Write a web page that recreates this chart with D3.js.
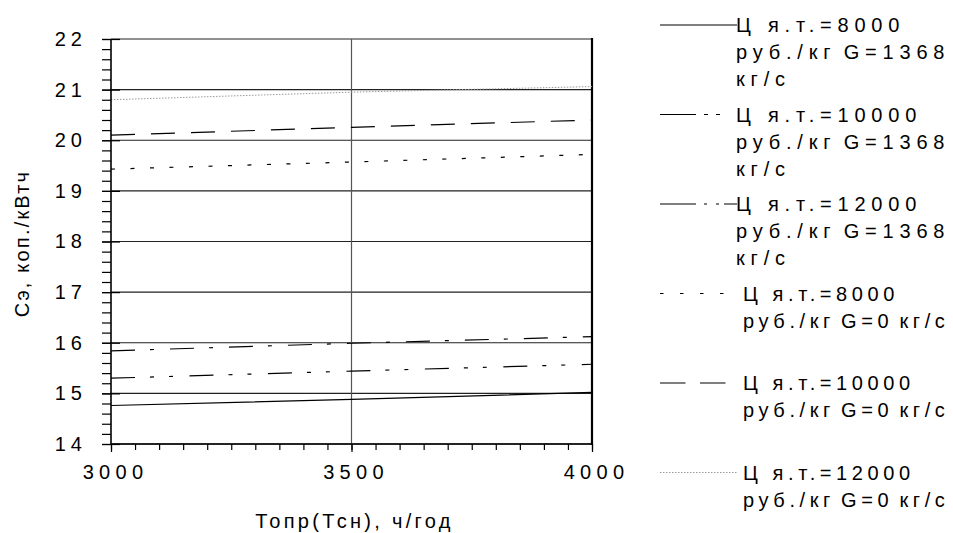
<!DOCTYPE html>
<html>
<head>
<meta charset="utf-8">
<script src="https://cdn.jsdelivr.net/npm/d3@7"></script>
<style>
  html, body { margin: 0; padding: 0; background: #fff; }
  svg { display: block; font-family: "Liberation Sans", Arial, sans-serif; }
</style>
</head>
<body>
<svg id="chart" width="953" height="533"></svg>
<script>
// Operating hours, h/year
const hours = [3000, 3500, 4000];

// Electricity cost, kop./kWh, for each fuel price / flow case
const cost8000G1368  = [14.76, 14.88, 15.02];
const cost10000G1368 = [15.30, 15.44, 15.575];
const cost12000G1368 = [15.84, 15.99, 16.12];
const cost8000G0     = [19.43, 19.57, 19.72];
const cost10000G0    = [20.10, 20.255, 20.40];
const cost12000G0    = [20.80, 20.95, 21.06];

const seriesNames = [
  ["Ц я.т.=8000", "руб./кг G=1368", "кг/с"],
  ["Ц я.т.=10000", "руб./кг G=1368", "кг/с"],
  ["Ц я.т.=12000", "руб./кг G=1368", "кг/с"],
  ["Ц я.т.=8000", "руб./кг G=0 кг/с"],
  ["Ц я.т.=10000", "руб./кг G=0 кг/с"],
  ["Ц я.т.=12000", "руб./кг G=0 кг/с"]
];

const xTickLabels = [3000, 3500, 4000];
const yTickLabels = [14, 15, 16, 17, 18, 19, 20, 21, 22];
const xTitle = "Топр(Тсн), ч/год";
const yTitle = "Сэ, коп./кВтч";

const seriesValues = [cost8000G1368, cost10000G1368, cost12000G1368,
                      cost8000G0, cost10000G0, cost12000G0];

// line styles: plot dash pattern, legend dash pattern, colour, width
const styles = [
  { dash: null,                  legendDash: null,                      color: "#000", width: 1.2 },
  { dash: "24,15,4,15,4,16.5",   legendDash: "36,8,4,8,4,200",          color: "#000", width: 1.2 },
  { dash: "24,15,4,16",          legendDash: "36,8,3,9,3,5,14",         color: "#000", width: 1.2 },
  { dash: "4,15.5",              legendDash: "3.5,16.5",                color: "#000", width: 1.2 },
  { dash: "24,16",               legendDash: "25.5,14.5",               color: "#000", width: 1.2 },
  { dash: "1.5,1.5",             legendDash: "1.5,1.5",                 color: "#9a9a9a", width: 1 }
];

const svg = d3.select("#chart");
const fontSize = 20;

const x = d3.scaleLinear().domain([3000, 4000]).range([111, 592]);
const y = d3.scaleLinear().domain([14, 22]).range([444, 39]);

// horizontal grid at each whole value
svg.append("g")
  .selectAll("line")
  .data(yTickLabels)
  .join("line")
  .attr("x1", x(3000)).attr("x2", x(4000))
  .attr("y1", d => y(d)).attr("y2", d => y(d))
  .attr("stroke", "#222").attr("stroke-width", 1.1);

// vertical grid at the middle tick
svg.append("line")
  .attr("x1", x(3500)).attr("x2", x(3500))
  .attr("y1", y(22)).attr("y2", y(14))
  .attr("stroke", "#555").attr("stroke-width", 1.2);

// right frame edge
svg.append("line")
  .attr("x1", x(4000)).attr("x2", x(4000))
  .attr("y1", y(22) - 1).attr("y2", y(14) + 1)
  .attr("stroke", "#000").attr("stroke-width", 2.2);

// series lines
const line = d3.line().x((d, i) => x(hours[i])).y(d => y(d));
svg.append("g")
  .selectAll("path")
  .data(seriesValues)
  .join("path")
  .attr("d", d => line(d))
  .attr("fill", "none")
  .attr("stroke", (d, i) => styles[i].color)
  .attr("stroke-width", (d, i) => styles[i].width)
  .attr("stroke-dasharray", (d, i) => styles[i].dash);

// y axis: minor ticks outside, major ticks crossing the axis, labels
const yMinor = d3.range(14, 22.0001, 0.2);
svg.append("g")
  .attr("transform", `translate(${x(3000)},0)`)
  .call(d3.axisLeft(y).tickValues(yMinor).tickSize(9).tickFormat(""))
  .call(g => g.select(".domain").remove())
  .call(g => g.selectAll("line").attr("stroke", "#000").attr("stroke-width", 1.2));

svg.append("g")
  .attr("transform", `translate(${x(3000)},0)`)
  .call(d3.axisRight(y).tickValues(yTickLabels).tickSize(9).tickFormat(""))
  .call(g => g.select(".domain").remove())
  .call(g => g.selectAll("line").attr("stroke", "#000").attr("stroke-width", 1.2));

const yAxis = svg.append("g")
  .attr("transform", `translate(${x(3000)},0)`)
  .call(d3.axisLeft(y).tickValues(yTickLabels).tickSize(9).tickPadding(17).tickFormat(d3.format("d")));
yAxis.select(".domain").attr("stroke", "#000").attr("stroke-width", 1.6).attr("d", `M0,${y(22)}V${y(14)}`);
yAxis.selectAll("line").attr("stroke", "#000").attr("stroke-width", 1.2);
yAxis.selectAll("text")
  .attr("font-size", fontSize).attr("fill", "#000")
  .attr("font-family", "Liberation Sans, Arial, sans-serif")
  .attr("letter-spacing", 5)
  .attr("dx", 2);

// x axis
const xMinor = d3.range(3000, 4000.001, 50);
svg.append("g")
  .attr("transform", `translate(0,${y(14)})`)
  .call(d3.axisBottom(x).tickValues(xMinor).tickSize(6).tickFormat(""))
  .call(g => g.select(".domain").remove())
  .call(g => g.selectAll("line").attr("stroke", "#000").attr("stroke-width", 1.2));

const xAxis = svg.append("g")
  .attr("transform", `translate(0,${y(14)})`)
  .call(d3.axisBottom(x).tickValues(xTickLabels).tickSize(8).tickPadding(13).tickFormat(d3.format("d")));
xAxis.select(".domain").attr("stroke", "#000").attr("stroke-width", 1.6).attr("d", `M${x(3000)},0H${x(4000)}`);
xAxis.selectAll("line").attr("stroke", "#000").attr("stroke-width", 1.2);
xAxis.selectAll("text")
  .attr("font-size", fontSize).attr("fill", "#000")
  .attr("font-family", "Liberation Sans, Arial, sans-serif")
  .attr("letter-spacing", 5.3)
  .attr("dx", 4);

// axis titles
svg.append("text")
  .attr("x", (x(3000) + x(4000)) / 2 + 3)
  .attr("y", 528)
  .attr("text-anchor", "middle")
  .attr("font-size", fontSize)
  .attr("letter-spacing", 3.3)
  .text(xTitle);

svg.append("text")
  .attr("transform", `translate(29,${(y(14) + y(22)) / 2 + 2}) rotate(-90)`)
  .attr("text-anchor", "middle")
  .attr("font-size", fontSize)
  .attr("letter-spacing", 2.2)
  .text(yTitle);

// legend
const legend = svg.append("g");
seriesNames.forEach((rows, i) => {
  const ly = 25 + 89.5 * i;
  const tx = i < 3 ? 736 : 743;
  legend.append("line")
    .attr("x1", 660).attr("x2", 737)
    .attr("y1", ly).attr("y2", ly)
    .attr("stroke", styles[i].color)
    .attr("stroke-width", styles[i].width)
    .attr("stroke-dasharray", styles[i].legendDash);
  const t = legend.append("text")
    .attr("x", tx).attr("y", ly + 7)
    .attr("font-size", fontSize)
    .attr("letter-spacing", i < 3 ? 5.8 : 4.6);
  rows.forEach((r, k) => {
    t.append("tspan")
      .attr("x", tx).attr("dy", k === 0 ? 0 : 27)
      .attr("word-spacing", k === 0 ? 0 : -4)
      .text(r);
  });
});
</script>
</body>
</html>
